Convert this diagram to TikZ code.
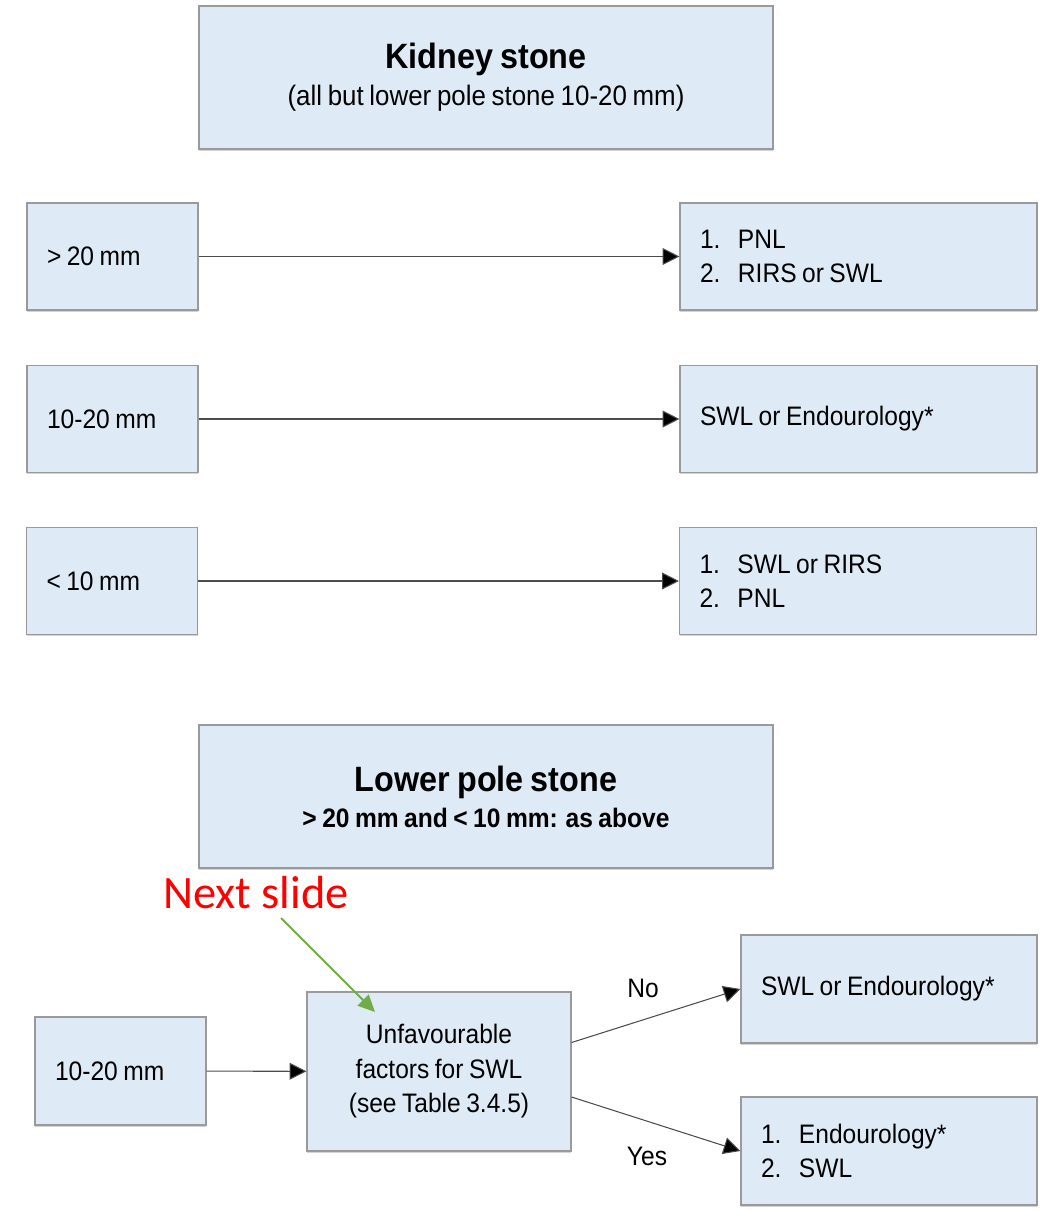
\documentclass[tikz,border=0pt]{standalone}
\usepackage{fontspec}
\setmainfont{Liberation Sans}[FakeStretch=0.92, WordSpace=0.8]
\newfontfamily\slidefont{Carlito}
\usetikzlibrary{arrows.meta,calc,shadows}

\definecolor{boxblue}{HTML}{DEEAF5}
\definecolor{boxline}{HTML}{9A9A9A}
\definecolor{arrowgreen}{HTML}{70AD47}
\newlength{\pxl}
\setlength{\pxl}{0.025cm}
\newcommand{\lnum}[1]{\makebox[38\pxl][l]{#1}}

\begin{document}
\begin{tikzpicture}[x=0.025cm, y=-0.025cm,
	box/.style={draw=boxline, fill=boxblue, line width=0.8pt, inner ysep=0pt,
		drop shadow={shadow xshift=0pt, shadow yshift=-1.2pt, opacity=0.35},
		font=\fontsize{19}{24.5}\selectfont,
		execute at begin node={\spaceskip=0pt\xspaceskip=0pt\relax}},
	titlebox/.style={box, minimum width=574\pxl, minimum height=143\pxl, align=center, inner xsep=0pt},
	sizebox/.style={box, text width=131\pxl, inner xsep=20\pxl, minimum height=107\pxl, align=left},
	therapy/.style={box, text width=317\pxl, inner xsep=20\pxl, minimum height=107\pxl, align=left},
	branch/.style={box, text width=256\pxl, inner xsep=20\pxl, minimum height=108\pxl, align=left},
	flow/.style={draw=black!70, line width=0.75pt, -{Triangle[length=12pt, width=12pt, fill=black]}},
	answer/.style={font=\fontsize{19}{24}\selectfont}]
	\useasboundingbox (0,0) rectangle (1050,1210);

	% kidney stone (all but lower pole)
	\node[titlebox](kid) at (486,77.5) {{\fontsize{25}{30}\selectfont\bfseries Kidney stone}\\[2pt]
		{\fontsize{20}{24}\selectfont (all but lower pole stone 10-20 mm)}};
	\node[sizebox](gt20) at (112.5,256.5) {> 20 mm};
	\node[therapy](t1) at (858.5,256.5) {\lnum{1.}PNL\\\lnum{2.}RIRS or SWL};
	\node[sizebox](mid) at (112.5,419) {10-20 mm};
	\node[therapy](t2) at (858.5,419) {SWL or Endourology*};
	\node[sizebox](lt10) at (112,581) {< 10 mm};
	\node[therapy](t3) at (858,581) {\lnum{1.}SWL or RIRS\\\lnum{2.}PNL};
	\draw[flow] (gt20) -- (t1);
	\draw[flow] (mid) -- (t2);
	\draw[flow] (lt10) -- (t3);

	% lower pole stone
	\node[titlebox](low) at (486,796.5) {{\fontsize{25}{30}\selectfont\bfseries Lower pole stone}\\[1pt]
		{\fontsize{19}{24}\selectfont\bfseries > 20 mm and < 10 mm: as above}};
	\node[sizebox, minimum height=108\pxl](lp) at (120.5,1071) {10-20 mm};
	\node[box, minimum width=264\pxl, minimum height=159\pxl, align=center, inner xsep=0pt](unfav) at (439,1071.5)
		{Unfavourable\\factors for SWL\\(see Table 3.4.5)};
	\node[branch](no) at (889,989) {SWL or Endourology*};
	\node[branch](yes) at (889,1151) {\lnum{1.}Endourology*\\\lnum{2.}SWL};
	\draw[flow] (lp) -- (unfav);
	\draw[flow] ($(unfav.east)+(0,-29)$) -- (no.west);
	\draw[flow] ($(unfav.east)+(0,25.5)$) -- (yes.west);
	\node[answer](nolab) at (643,988) {No};
	\node[answer](yeslab) at (647,1156) {Yes};

	% pointer to next slide
	\node[red, font=\slidefont\fontsize{33}{38}\selectfont](next) at (256,893) {Next slide};
	\coordinate (ptr) at (281,918);
	\coordinate (ptrend) at (375,1012);
	\draw[arrowgreen, line width=1.4pt, -{Triangle[length=12pt, width=11pt]}] (ptr) -- (ptrend);
\end{tikzpicture}
\end{document}
